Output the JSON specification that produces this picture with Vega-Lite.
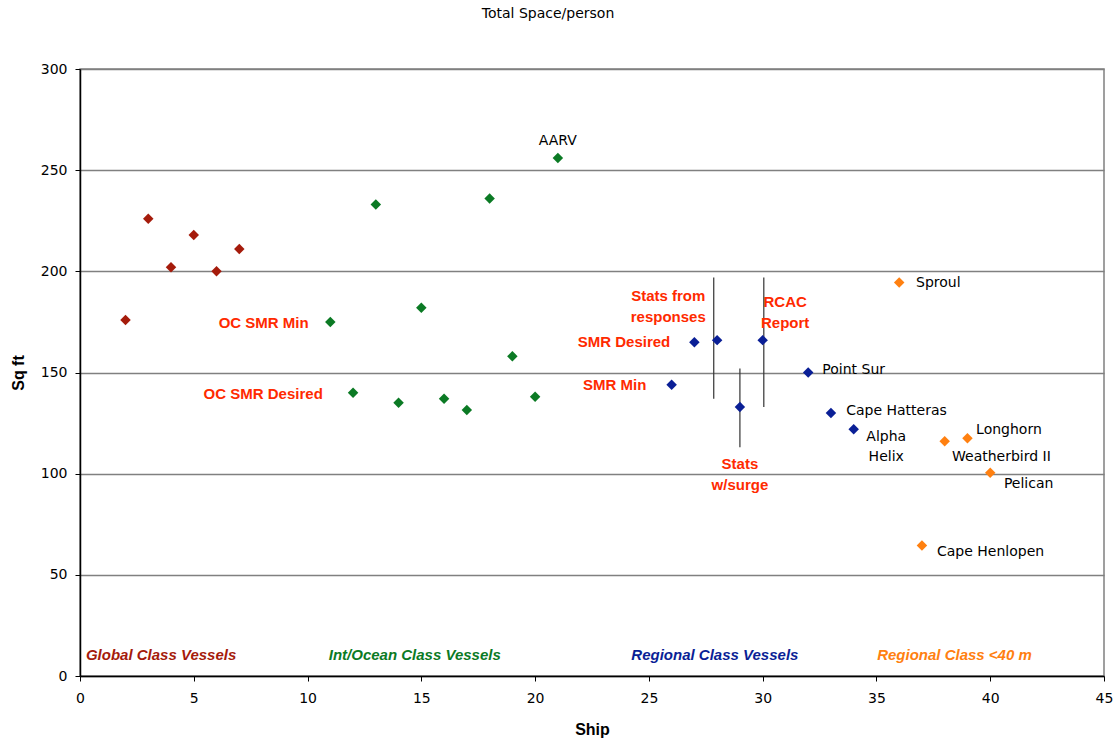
{
  "$schema": "https://vega.github.io/schema/vega-lite/v6.json",
  "width": 1024,
  "height": 607,
  "autosize": {"type": "none"},
  "padding": {"left": 80, "top": 69, "right": 13, "bottom": 66},
  "background": "white",
  "view": {"stroke": "#808080", "strokeWidth": 1.5},
  "title": {
    "text": "Total Space/person",
    "font": "DejaVu Sans",
    "fontSize": 14,
    "fontWeight": "normal",
    "color": "#000000",
    "anchor": "middle",
    "dx": -44,
    "offset": 41
  },
  "datasets": {
    "ships": [
      {"ship": 2, "space": 176, "cls": "Global"},
      {"ship": 3, "space": 226, "cls": "Global"},
      {"ship": 4, "space": 202, "cls": "Global"},
      {"ship": 5, "space": 218, "cls": "Global"},
      {"ship": 6, "space": 200, "cls": "Global"},
      {"ship": 7, "space": 211, "cls": "Global"},
      {"ship": 11, "space": 175, "cls": "Int/Ocean"},
      {"ship": 12, "space": 140, "cls": "Int/Ocean"},
      {"ship": 13, "space": 233, "cls": "Int/Ocean"},
      {"ship": 14, "space": 135, "cls": "Int/Ocean"},
      {"ship": 15, "space": 182, "cls": "Int/Ocean"},
      {"ship": 16, "space": 137, "cls": "Int/Ocean"},
      {"ship": 17, "space": 131.5, "cls": "Int/Ocean"},
      {"ship": 18, "space": 236, "cls": "Int/Ocean"},
      {"ship": 19, "space": 158, "cls": "Int/Ocean"},
      {"ship": 20, "space": 138, "cls": "Int/Ocean"},
      {"ship": 21, "space": 256, "cls": "Int/Ocean"},
      {"ship": 26, "space": 144, "cls": "Regional"},
      {"ship": 27, "space": 165, "cls": "Regional"},
      {"ship": 28, "space": 166, "cls": "Regional"},
      {"ship": 29, "space": 133, "cls": "Regional"},
      {"ship": 30, "space": 166, "cls": "Regional"},
      {"ship": 32, "space": 150, "cls": "Regional"},
      {"ship": 33, "space": 130, "cls": "Regional"},
      {"ship": 34, "space": 122, "cls": "Regional"},
      {"ship": 36, "space": 194.5, "cls": "Regional <40 m"},
      {"ship": 37, "space": 64.5, "cls": "Regional <40 m"},
      {"ship": 38, "space": 116, "cls": "Regional <40 m"},
      {"ship": 39, "space": 117.5, "cls": "Regional <40 m"},
      {"ship": 40, "space": 100.5, "cls": "Regional <40 m"}
    ],
    "markers": [
      {"ship": 27.85, "lo": 137, "hi": 197},
      {"ship": 30.05, "lo": 133, "hi": 197},
      {"ship": 29, "lo": 113, "hi": 152}
    ],
    "namesLeft": [
      {"ship": 36.74, "space": 194, "label": "Sproul"},
      {"ship": 32.62, "space": 151, "label": "Point Sur"},
      {"ship": 33.67, "space": 131, "label": "Cape Hatteras"},
      {"ship": 39.38, "space": 121.8, "label": "Longhorn"},
      {"ship": 38.32, "space": 108.4, "label": "Weatherbird II"},
      {"ship": 40.6, "space": 95, "label": "Pelican"},
      {"ship": 37.66, "space": 61.4, "label": "Cape Henlopen"}
    ],
    "namesCenter": [
      {"ship": 21, "space": 264.4, "label": ["AARV"]},
      {"ship": 35.43, "space": 118.3, "label": ["Alpha", "Helix"]}
    ],
    "refsRight": [
      {"ship": 10.05, "space": 174.3, "label": "OC SMR Min"},
      {"ship": 10.67, "space": 139.6, "label": "OC SMR Desired"},
      {"ship": 25.94, "space": 165.3, "label": "SMR Desired"},
      {"ship": 24.89, "space": 143.6, "label": "SMR Min"}
    ],
    "refsCenter": [
      {"ship": 25.85, "space": 187.6, "label": ["Stats from", "responses"]},
      {"ship": 30.99, "space": 184.7, "label": ["RCAC", "Report"]},
      {"ship": 29, "space": 105, "label": ["Stats", "w/surge"]}
    ],
    "classes": [
      {"ship": 0.26, "space": 10.4, "cls": "Global", "label": "Global Class Vessels"},
      {"ship": 10.93, "space": 10.4, "cls": "Int/Ocean", "label": "Int/Ocean Class Vessels"},
      {"ship": 24.23, "space": 10.4, "cls": "Regional", "label": "Regional Class Vessels"},
      {"ship": 35.03, "space": 10.4, "cls": "Regional <40 m", "label": "Regional Class <40 m"}
    ]
  },
  "encoding": {
    "x": {
      "field": "ship",
      "type": "quantitative",
      "scale": {"domain": [0, 45], "nice": false, "zero": false},
      "axis": {
        "title": "Ship",
        "values": [0, 5, 10, 15, 20, 25, 30, 35, 40, 45],
        "grid": false,
        "domainColor": "#000000",
        "domainWidth": 1.5,
        "tickColor": "#000000",
        "tickSize": 5,
        "labelFont": "DejaVu Sans",
        "labelFontSize": 14,
        "labelColor": "#000000",
        "labelPadding": 10,
        "labelFlush": false,
        "titleFont": "Liberation Sans",
        "titleFontSize": 16,
        "titleFontWeight": "bold",
        "titleColor": "#000000",
        "titlePadding": 16
      }
    },
    "y": {
      "field": "space",
      "type": "quantitative",
      "scale": {"domain": [0, 300], "nice": false},
      "axis": {
        "title": "Sq ft",
        "values": [0, 50, 100, 150, 200, 250, 300],
        "grid": true,
        "gridColor": "#808080",
        "gridWidth": 1.5,
        "gridOpacity": 1,
        "domainColor": "#000000",
        "domainWidth": 1.5,
        "tickColor": "#000000",
        "tickSize": 5,
        "labelFont": "DejaVu Sans",
        "labelFontSize": 14,
        "labelColor": "#000000",
        "labelPadding": 8,
        "titleFont": "Liberation Sans",
        "titleFontSize": 16,
        "titleFontWeight": "bold",
        "titleColor": "#000000",
        "titlePadding": 14
      }
    }
  },
  "layer": [
    {
      "data": {"name": "markers"},
      "mark": {"type": "rule", "color": "#333333", "strokeWidth": 1.2},
      "encoding": {
        "y": {"field": "lo", "type": "quantitative"},
        "y2": {"field": "hi"}
      }
    },
    {
      "data": {"name": "ships"},
      "mark": {"type": "point", "shape": "diamond", "filled": true, "size": 110, "opacity": 1},
      "encoding": {
        "color": {
          "field": "cls",
          "type": "nominal",
          "scale": {
            "domain": ["Global", "Int/Ocean", "Regional", "Regional <40 m"],
            "range": ["#a51b0b", "#0b7a24", "#0a1f96", "#ff8010"]
          },
          "legend": null
        }
      }
    },
    {
      "data": {"name": "namesLeft"},
      "mark": {"type": "text", "align": "left", "baseline": "middle", "font": "DejaVu Sans", "fontSize": 14, "color": "#000000"},
      "encoding": {"text": {"field": "label"}}
    },
    {
      "data": {"name": "namesCenter"},
      "mark": {"type": "text", "align": "center", "baseline": "middle", "font": "DejaVu Sans", "fontSize": 14, "lineHeight": 20, "color": "#000000"},
      "encoding": {"text": {"field": "label"}}
    },
    {
      "data": {"name": "refsRight"},
      "mark": {"type": "text", "align": "right", "baseline": "middle", "font": "Liberation Sans", "fontSize": 15, "fontWeight": "bold", "color": "#ff2a00"},
      "encoding": {"text": {"field": "label"}}
    },
    {
      "data": {"name": "refsCenter"},
      "mark": {"type": "text", "align": "center", "baseline": "middle", "font": "Liberation Sans", "fontSize": 15, "fontWeight": "bold", "lineHeight": 21, "color": "#ff2a00"},
      "encoding": {"text": {"field": "label"}}
    },
    {
      "data": {"name": "classes"},
      "mark": {"type": "text", "align": "left", "baseline": "middle", "font": "Liberation Sans", "fontSize": 15, "fontWeight": "bold", "fontStyle": "italic"},
      "encoding": {
        "text": {"field": "label"},
        "color": {"field": "cls", "type": "nominal", "legend": null}
      }
    }
  ]
}
